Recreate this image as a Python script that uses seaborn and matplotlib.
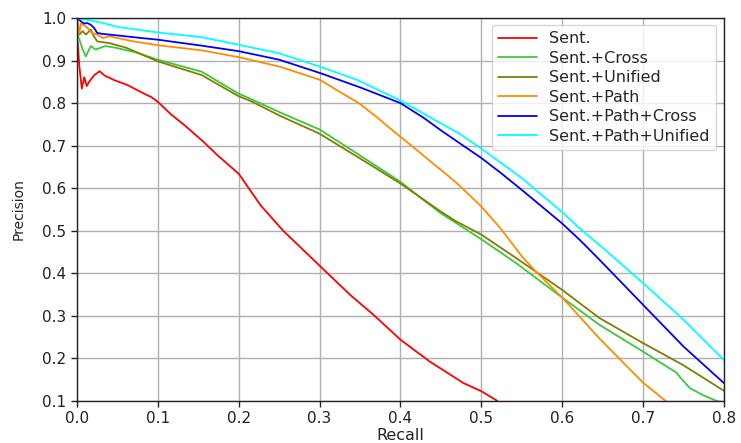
import matplotlib
matplotlib.use("Agg")
import matplotlib.pyplot as plt
import seaborn as sns
import pandas as pd

# ---- data ----
labels = ["Sent.", "Sent.+Cross", "Sent.+Unified", "Sent.+Path",
          "Sent.+Path+Cross", "Sent.+Path+Unified"]
colors = ["#ff0000", "#3cc83c", "#808000", "#ff8c00", "#0000ff", "#00ffff"]

sent_rec = [0.0, 0.001, 0.003, 0.006, 0.009, 0.012, 0.015, 0.021, 0.028, 0.034,
            0.046, 0.063, 0.079, 0.092, 0.1, 0.116, 0.133, 0.157, 0.174, 0.2,
            0.227, 0.255, 0.3, 0.338, 0.367, 0.4, 0.436, 0.478, 0.5, 0.52]
sent_prec = [0.95, 0.939, 0.885, 0.834, 0.861, 0.84, 0.85, 0.865, 0.875, 0.865,
             0.854, 0.842, 0.826, 0.814, 0.803, 0.774, 0.748, 0.708, 0.677, 0.634,
             0.56, 0.50, 0.418, 0.349, 0.302, 0.244, 0.193, 0.142, 0.123, 0.1]

cross_rec = [0.0, 0.003, 0.007, 0.011, 0.017, 0.023, 0.035, 0.048, 0.071, 0.1,
             0.154, 0.2, 0.216, 0.25, 0.3, 0.35, 0.4, 0.428, 0.45, 0.469, 0.5,
             0.543, 0.6, 0.646, 0.7, 0.741, 0.747, 0.758, 0.774, 0.791, 0.8]
cross_prec = [0.965, 0.949, 0.926, 0.91, 0.934, 0.926, 0.934, 0.93, 0.92, 0.902,
              0.874, 0.822, 0.809, 0.779, 0.738, 0.677, 0.615, 0.573, 0.541, 0.518,
              0.48, 0.424, 0.343, 0.279, 0.216, 0.167, 0.153, 0.13, 0.114, 0.1, 0.097]

unified_rec = [0.0, 0.003, 0.007, 0.011, 0.015, 0.017, 0.021, 0.025, 0.04, 0.061,
               0.083, 0.1, 0.154, 0.2, 0.216, 0.25, 0.3, 0.35, 0.4, 0.45, 0.469,
               0.5, 0.543, 0.6, 0.646, 0.7, 0.749, 0.8]
unified_prec = [0.996, 0.961, 0.969, 0.961, 0.969, 0.973, 0.957, 0.945, 0.941, 0.93,
                0.912, 0.898, 0.866, 0.816, 0.804, 0.771, 0.728, 0.67, 0.611, 0.545,
                0.522, 0.491, 0.436, 0.361, 0.295, 0.236, 0.185, 0.124]

path_rec = [0.0, 0.003, 0.005, 0.008, 0.013, 0.018, 0.024, 0.032, 0.04, 0.07,
            0.1, 0.154, 0.2, 0.25, 0.3, 0.32, 0.35, 0.37, 0.394, 0.42, 0.441,
            0.461, 0.473, 0.5, 0.524, 0.55, 0.567, 0.6, 0.646, 0.7, 0.728]
path_prec = [1.0, 0.965, 0.988, 0.984, 0.977, 0.965, 0.962, 0.953, 0.957, 0.945,
             0.936, 0.924, 0.908, 0.886, 0.855, 0.832, 0.798, 0.768, 0.73, 0.69,
             0.657, 0.626, 0.606, 0.557, 0.505, 0.44, 0.405, 0.343, 0.247, 0.143, 0.1]

pcross_rec = [0.0, 0.005, 0.009, 0.013, 0.017, 0.021, 0.025, 0.03, 0.05, 0.079,
              0.1, 0.154, 0.2, 0.25, 0.3, 0.35, 0.4, 0.429, 0.45, 0.473, 0.5,
              0.524, 0.55, 0.576, 0.6, 0.622, 0.644, 0.7, 0.75, 0.8]
pcross_prec = [1.0, 0.992, 0.987, 0.988, 0.984, 0.977, 0.965, 0.963, 0.959, 0.953,
               0.949, 0.935, 0.922, 0.902, 0.871, 0.837, 0.8, 0.765, 0.736, 0.706,
               0.671, 0.636, 0.596, 0.555, 0.517, 0.478, 0.436, 0.326, 0.228, 0.142]

punified_rec = [0.0, 0.011, 0.023, 0.035, 0.048, 0.069, 0.1, 0.154, 0.2, 0.25,
                0.3, 0.346, 0.4, 0.441, 0.473, 0.5, 0.524, 0.55, 0.576, 0.6, 0.622,
                0.655, 0.7, 0.75, 0.8]
punified_prec = [1.0, 0.996, 0.992, 0.987, 0.98, 0.974, 0.966, 0.955, 0.937, 0.917,
                 0.886, 0.855, 0.806, 0.762, 0.728, 0.693, 0.66, 0.624, 0.582, 0.544,
                 0.505, 0.452, 0.377, 0.291, 0.196]

xticks = [0.0, 0.1, 0.2, 0.3, 0.4, 0.5, 0.6, 0.7, 0.8]
yticks = [0.1, 0.2, 0.3, 0.4, 0.5, 0.6, 0.7, 0.8, 0.9, 1.0]

series = [(sent_rec, sent_prec), (cross_rec, cross_prec), (unified_rec, unified_prec),
          (path_rec, path_prec), (pcross_rec, pcross_prec), (punified_rec, punified_prec)]

frames = []
for lab, (r, p) in zip(labels, series):
    frames.append(pd.DataFrame({"Recall": r, "Precision": p, "Model": lab}))
df = pd.concat(frames, ignore_index=True)

# ---- drawing ----
sns.set_style("white")
plt.rcParams["font.family"] = ["DejaVu Sans"]

fig = plt.figure(figsize=(7.41, 4.43), dpi=100)
ax = fig.add_axes([0.1039, 0.0948, 0.8731, 0.8646])

sns.lineplot(data=df, x="Recall", y="Precision", hue="Model", hue_order=labels,
             palette=dict(zip(labels, colors)), estimator=None, sort=False,
             linewidth=1.3, ax=ax)

ax.set_xlim(0.0, 0.8)
ax.set_ylim(0.1, 1.0)
ax.set_xticks(xticks)
ax.set_yticks(yticks)
ax.set_xticklabels([f"{t:.1f}" for t in xticks])
ax.set_yticklabels([f"{t:.1f}" for t in yticks])
ax.tick_params(axis="both", labelsize=11, direction="out", length=4.5, width=1,
               pad=3, colors="#222222", bottom=True, left=True)
ax.grid(True, color="#b0b0b0", linewidth=1.0)
ax.set_axisbelow(True)
for s in ax.spines.values():
    s.set_color("#222222")
    s.set_linewidth(1.0)
ax.set_xlabel("Recall", fontsize=11.5, labelpad=1)
ax.set_ylabel("Precision", fontsize=10, labelpad=12)

leg = ax.legend(loc="upper right", bbox_to_anchor=(0.988, 0.982), borderaxespad=0,
                fontsize=11.5, labelspacing=0.28, handlelength=2.4,
                borderpad=0.4, frameon=True, framealpha=0.8,
                edgecolor="#cccccc", fancybox=True)
for line in leg.get_lines():
    line.set_linewidth(1.3)

fig.savefig("out.png", dpi=100)
